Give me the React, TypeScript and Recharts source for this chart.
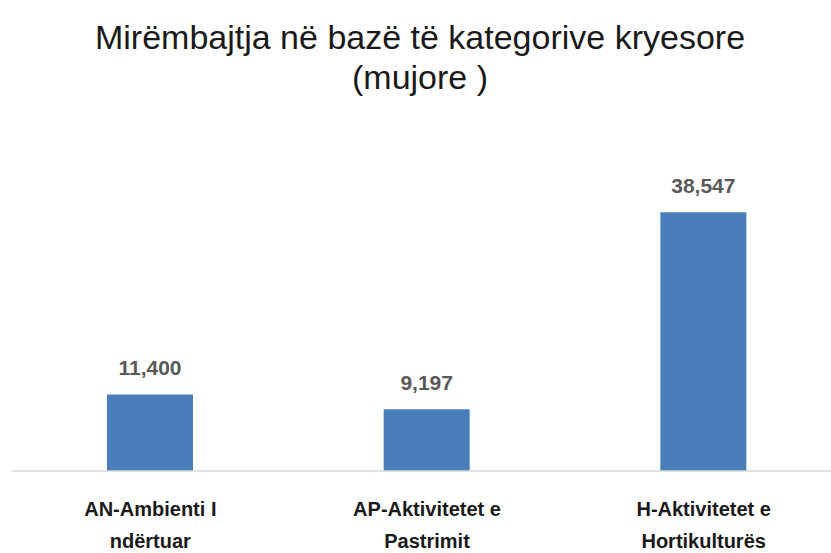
import React from "react";
import { BarChart, Bar, XAxis, YAxis, LabelList } from "recharts";

const categoryLines = [
  ["AN-Ambienti I", "ndërtuar"],
  ["AP-Aktivitetet e", "Pastrimit"],
  ["H-Aktivitetet e", "Hortikulturës"],
];
const values = [11400, 9197, 38547];

const data = categoryLines.map((lines, i) => ({ name: lines.join(" "), value: values[i] }));

const FONT = "'Liberation Sans', Arial, sans-serif";

function CategoryTick(props: any) {
  const { x, y, index } = props;
  const lines = categoryLines[index] || [];
  return (
    <g transform={`translate(${x},${y})`}>
      {lines.map((t, i) => (
        <text
          key={i}
          x={0}
          y={37 + i * 32}
          textAnchor="middle"
          fontFamily={FONT}
          fontWeight="bold"
          fontSize={20}
          fill="#1a1a1a"
        >
          {t}
        </text>
      ))}
    </g>
  );
}

export default function App() {
  return (
    <div style={{ position: "absolute", left: 0, top: 0, width: 831, height: 553, overflow: "hidden", background: "#fff" }}>
      <div
        style={{
          position: "absolute",
          left: 0,
          top: 17,
          width: 840,
          textAlign: "center",
          fontFamily: FONT,
          fontSize: 34,
          lineHeight: "40px",
          color: "#1a1a1a",
        }}
      >
        Mirëmbajtja në bazë të kategorive kryesore
        <br />
        (mujore )
      </div>
      <BarChart
        width={842}
        height={553}
        data={data}
        margin={{ top: 169, right: 0, bottom: 0, left: 12 }}
        barCategoryGap={0}
      >
        <YAxis hide domain={[0, 45000]} />
        <XAxis
          dataKey="name"
          axisLine={{ stroke: "#d9d9d9", strokeWidth: 1.5 }}
          tickLine={false}
          tick={<CategoryTick />}
          interval={0}
          height={82}
        />
        <Bar dataKey="value" fill="#4a7ebb" barSize={86} isAnimationActive={false}>
          <LabelList
            dataKey="value"
            position="top"
            offset={19}
            formatter={(v: any) => Number(v).toLocaleString("en-US")}
            style={{ fontFamily: FONT, fontWeight: "bold", fontSize: 21, fill: "#595959" }}
          />
        </Bar>
      </BarChart>
    </div>
  );
}
